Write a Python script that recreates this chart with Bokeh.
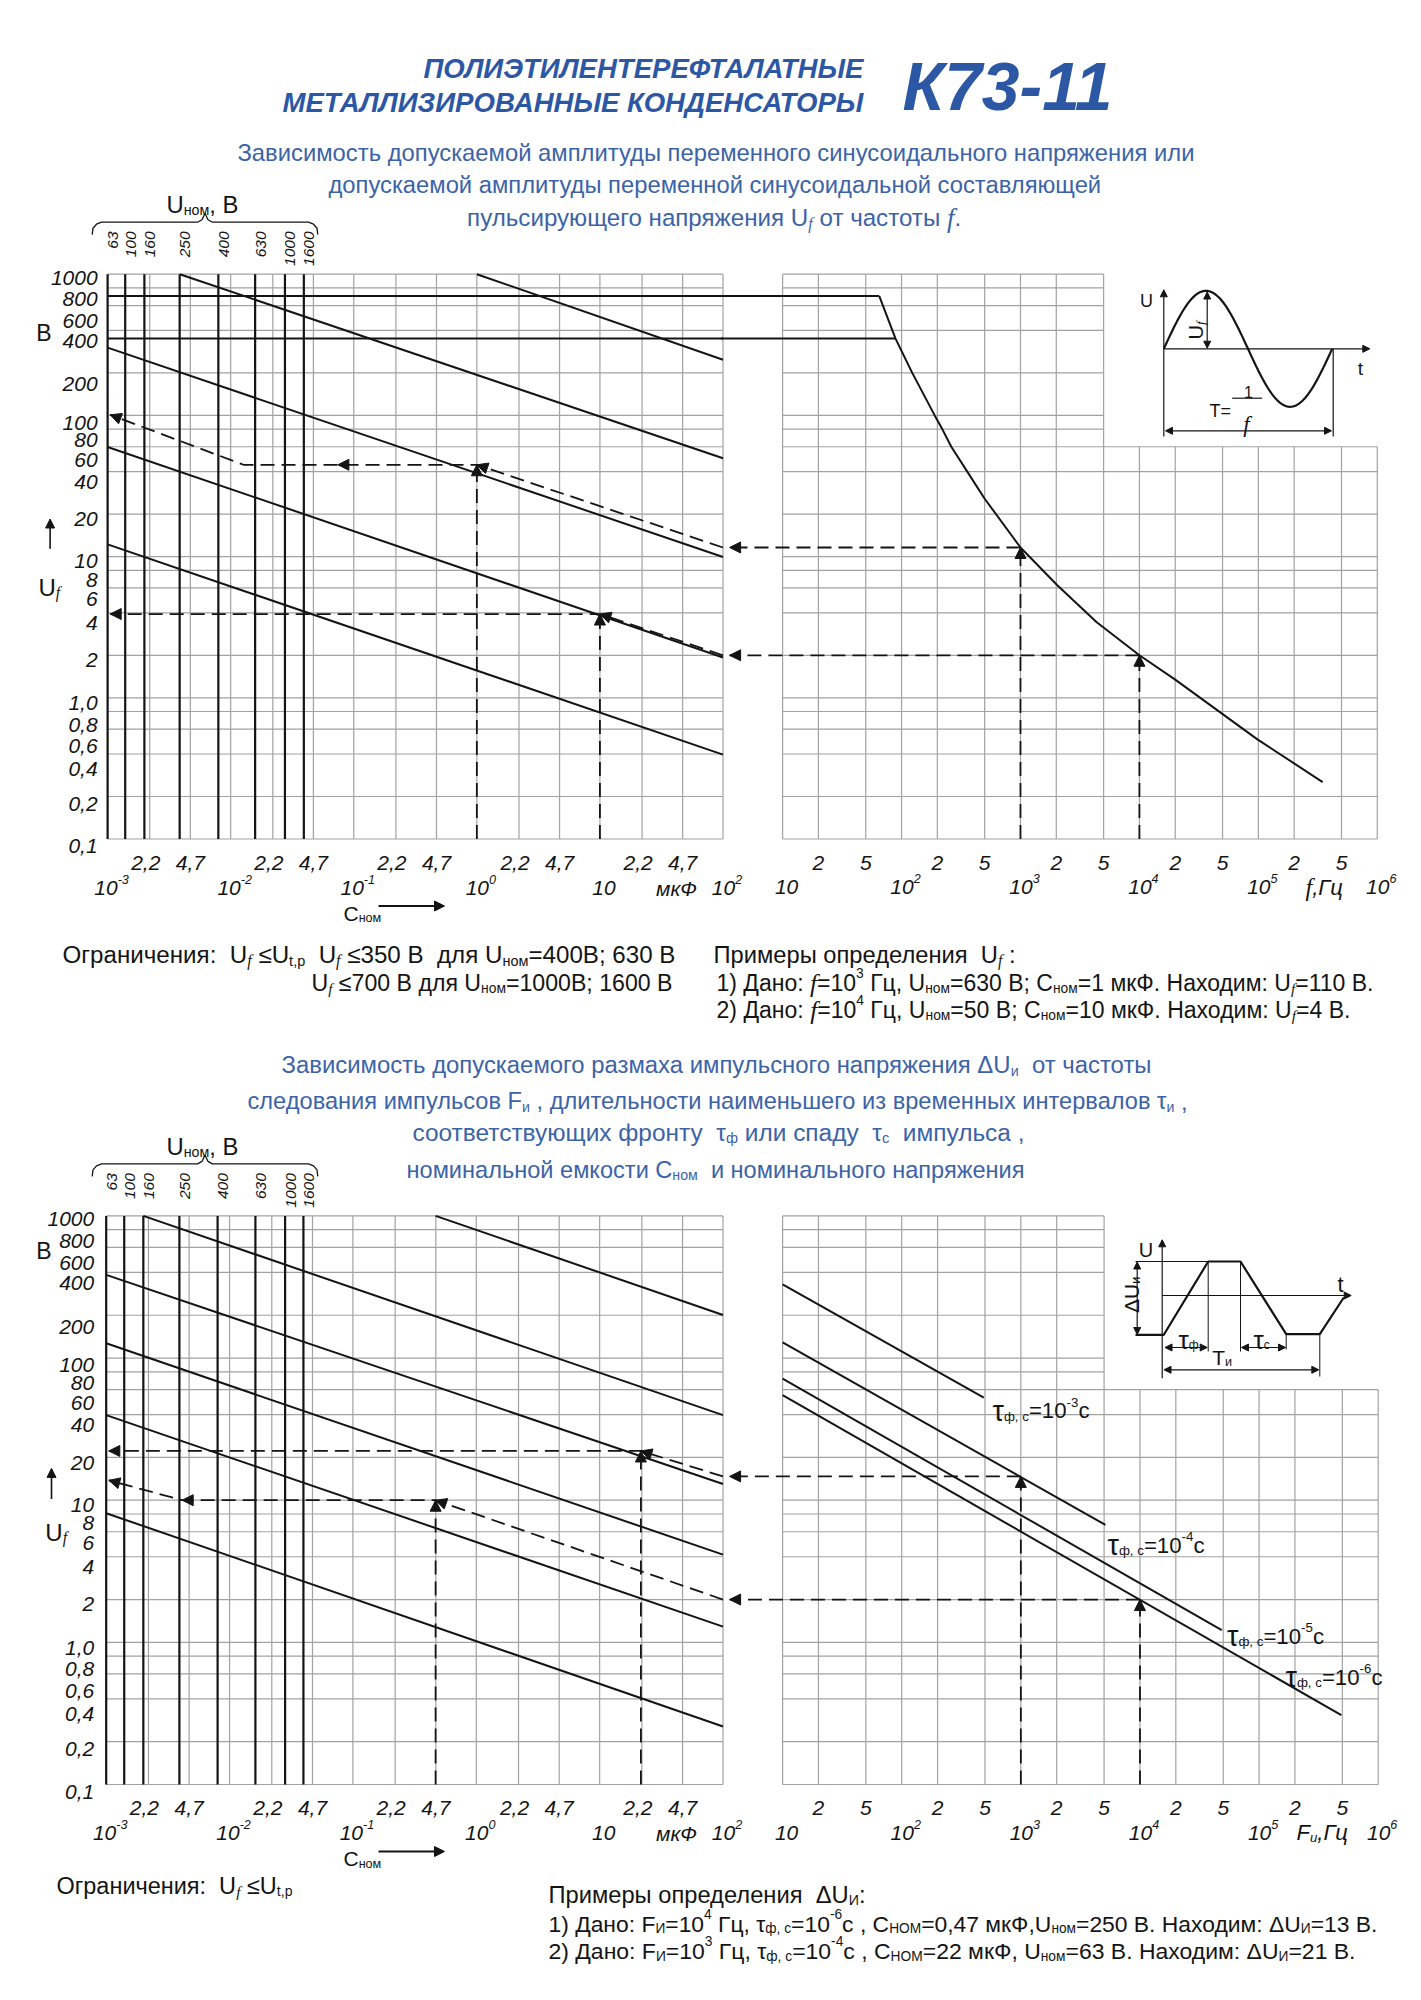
import math
import subprocess
import re
import numpy as np
from bokeh.plotting import figure
from bokeh.models import Range1d, LogScale, ColumnDataSource, Arrow, NormalHead
from bokeh.embed import file_html
from bokeh.resources import INLINE

try:
    from PIL import ImageFont
except Exception:
    ImageFont = None

# ======================= DATA =======================
U_GRID = [0.1, 0.2, 0.4, 0.6, 0.8, 1, 2, 4, 6, 8, 10, 20, 40, 60, 80, 100, 200, 400, 600, 800, 1000]
U_TICK_LABELS = ["0,1", "0,2", "0,4", "0,6", "0,8", "1,0", "2", "4", "6", "8", "10", "20", "40", "60",
                 "80", "100", "200", "400", "600", "800", "1000"]
C_GRID = [1e-3, 2.2e-3, 4.7e-3, 1e-2, 2.2e-2, 4.7e-2, 0.1, 0.22, 0.47, 1, 2.2, 4.7, 10, 22, 47, 100]
C_MINOR_TICKS = [2.2e-3, 4.7e-3, 2.2e-2, 4.7e-2, 0.22, 0.47, 2.2, 4.7, 22, 47]
C_MINOR_LABELS = ["2,2", "4,7", "2,2", "4,7", "2,2", "4,7", "2,2", "4,7", "2,2", "4,7"]
C_MAJOR_TICKS = [1e-3, 1e-2, 1e-1, 1, 10, 100]
C_MAJOR_LABELS = ["10^{-3}", "10^{-2}", "10^{-1}", "10^{0}", "10", "10^{2}"]
F_GRID = [10, 20, 50, 1e2, 2e2, 5e2, 1e3, 2e3, 5e3, 1e4, 2e4, 5e4, 1e5, 2e5, 5e5, 1e6]
F_MINOR_TICKS = [20, 50, 2e2, 5e2, 2e3, 5e3, 2e4, 5e4, 2e5, 5e5]
F_MINOR_LABELS = ["2", "5", "2", "5", "2", "5", "2", "5", "2", "5"]
F_MAJOR_TICKS = [10, 1e2, 1e3, 1e4, 1e5, 1e6]
F_MAJOR_LABELS = ["10", "10^{2}", "10^{3}", "10^{4}", "10^{5}", "10^{6}"]
F_SPLIT = 5e3
U_SPLIT = 60

UNOM_LABELS = ["63", "100", "160", "250", "400", "630", "1000", "1600"]
UNOM_C_TOP = [1.0e-3, 1.39e-3, 1.99e-3, 3.85e-3, 7.94e-3, 1.58e-2, 2.76e-2, 3.93e-2]
UNOM_C_BOT = [1.0e-3, 1.40e-3, 2.00e-3, 3.92e-3, 8.0e-3, 1.62e-2, 2.82e-2, 3.97e-2]

# top chart: U_f versus C_nom lines (start C, start U, end C, end U)
TOP_LINE_C0 = [3.86e-3, 1.0, 1e-3, 1e-3, 1e-3]
TOP_LINE_U0 = [1000, 1000, 302, 59.8, 12.2]
TOP_LINE_C1 = [100, 100, 100, 100, 100]
TOP_LINE_U1 = [49.7, 248, 9.93, 1.93, 0.396]
# top chart: limits and U_f versus f curve
TOP_LIMIT_U = [700, 350]
TOP_CURVE_F = [65, 89, 123, 190, 220, 262, 357, 500, 1000, 2050, 4375, 10000, 19860, 50100, 98200, 347000]
TOP_CURVE_U = [700, 350, 200, 100, 80, 60, 40, 25.7, 11.6, 6.24, 3.43, 2.0, 1.35, 0.767, 0.508, 0.253]
# top chart examples
TOP_EX_F = [1e3, 1e4]
TOP_EX_UF = [11.6, 2.0]
TOP_EX1_C = [100, 1.0, 0.0127, 1.05e-3]
TOP_EX1_U = [11.6, 44.7, 44.7, 101]
TOP_EX1_MID_C = 0.0743
TOP_EX2_C = [100, 10, 1.05e-3]
TOP_EX2_U = [2.0, 3.92, 3.92]

# bottom chart: lines versus C_nom
BOT_LINE_C0 = [0.468, 2.0e-3, 1e-3, 1e-3, 1e-3, 1e-3]
BOT_LINE_U0 = [1000, 1000, 385, 127, 39.7, 8.1]
BOT_LINE_C1 = [100, 100, 100, 100, 100, 100]
BOT_LINE_U1 = [201, 39.7, 13.0, 4.14, 1.29, 0.256]
# bottom chart: lines versus F for tau
TAU_EXP = ["-3", "-4", "-5", "-6"]
TAU_F0 = [10, 10, 10, 10]
TAU_U0 = [330, 129, 71.6, 54.8]
TAU_F1 = [489, 5130, 48600, 490000]
TAU_U1 = [52.7, 6.70, 1.22, 0.308]
# bottom chart examples
BOT_EX_F = [1e4, 1e3]
BOT_EX_UF = [2.0, 14.7]
BOT_EX1_C = [100, 0.468, 4.13e-3, 1.05e-3]
BOT_EX1_U = [2.0, 10.0, 10.0, 13.8]
BOT_EX2_C = [100, 21.6, 1.05e-3]
BOT_EX2_U = [14.7, 22.2, 22.2]

C_MIN, C_MAX = C_GRID[0], C_GRID[-1]
U_MIN, U_MAX = U_GRID[0], U_GRID[-1]
F_MIN, F_MAX = F_GRID[0], F_GRID[-1]

# ======================= STYLE / LAYOUT =======================
SANS = "Liberation Sans"
SERIF = "Liberation Serif"
BLACK = "#141414"
GRID = "#a2a2a2"
BLUE_T = "#2b57a5"
BLUE = "#3c63a8"

W, H = 1416, 1994
X0, Y0 = 0, 9
TOP = dict(c0=107.1, c1=722.5, f0=782.1, f1=1376.8, uhi=282.7, ulo=847.5)
BOT = dict(c0=105.7, c1=722.5, f0=782.1, f1=1377.7, uhi=1224.4, ulo=1793.0)
YLAB_DY = [0, 0, 8, 10, 6, -2, -3, 3, 4, 2, -3, -2, 3, 6, 4, 0, 4, 3, 8, 4, -4]

# ======================= text helpers =======================
FONT_FILES = {
    (SANS, "normal"): "LiberationSans-Regular.ttf",
    (SANS, "italic"): "LiberationSans-Italic.ttf",
    (SANS, "bold"): "LiberationSans-Bold.ttf",
    (SANS, "bold italic"): "LiberationSans-BoldItalic.ttf",
    (SERIF, "italic"): "LiberationSerif-Italic.ttf",
    (SERIF, "normal"): "LiberationSerif-Regular.ttf",
}
_FC = {}


def _load_font(font, style):
    key = (font, style)
    if key in _FC:
        return _FC[key]
    f = None
    if ImageFont is not None:
        cands = []
        if key in FONT_FILES:
            cands.append(FONT_FILES[key])
        try:
            st = {"normal": "Regular", "italic": "Italic", "bold": "Bold", "bold italic": "Bold Italic"}[style]
            out = subprocess.run(["fc-match", "-f", "%{file}", f"{font}:style={st}"],
                                 capture_output=True, text=True, timeout=5).stdout.strip()
            if out:
                cands.append(out)
        except Exception:
            pass
        for c in cands:
            try:
                f = ImageFont.truetype(c, 100)
                break
            except Exception:
                continue
    _FC[key] = f
    return f


def text_w(s, font, style, size):
    if not s:
        return 0.0
    f = _load_font(font, style)
    if f is not None:
        try:
            return f.getlength(s) * size / 100.0
        except Exception:
            pass
    return len(s) * 0.55 * size


def parse(s, font=SANS, style="normal"):
    parts, buf, i = [], "", 0
    while i < len(s):
        ch = s[i]
        if ch in "_^" and i + 1 < len(s) and s[i + 1] == "{":
            if buf:
                parts.append((buf, "", font, style, 1.0))
                buf = ""
            j = s.index("}", i + 2)
            inner = s[i + 2:j]
            mod = "sub" if ch == "_" else "sup"
            if len(inner) > 1 and inner.startswith("$") and inner.endswith("$"):
                parts.append((inner[1:-1], mod, SERIF, "italic", 1.1))
            else:
                parts.append((inner, mod, font, style, 1.0))
            i = j + 1
        elif ch == "$":
            if buf:
                parts.append((buf, "", font, style, 1.0))
                buf = ""
            j = s.index("$", i + 1)
            parts.append((s[i + 1:j], "", SERIF, "italic", 1.1))
            i = j + 1
        else:
            buf += ch
            i += 1
    if buf:
        parts.append((buf, "", font, style, 1.0))
    return parts


TXT = {}


def _add(key, **kw):
    d = TXT.setdefault(key, {k: [] for k in ("x", "y", "xo", "yo", "text", "font", "style", "size", "color", "angle")})
    for k in d:
        d[k].append(kw[k])


def rich(x, y, s, size, color=BLACK, font=SANS, style="normal", align="left", angle=0.0,
         xr="default", yr="default", dx=0.0, dy=0.0, fit=None, parts=None, sub=0.6):
    if parts is None:
        parts = parse(s, font, style)

    def sizes(sz):
        return [sz * pt[4] * (sub if pt[1] else 1.0) for pt in parts]

    def widths(sz):
        return [text_w(pt[0], pt[2], pt[3], ps) for pt, ps in zip(parts, sizes(sz))]

    ws = widths(size)
    if fit:
        k = max(0.75, min(1.35, fit / max(sum(ws), 1e-6)))
        size = size * k
        ws = widths(size)
    total = sum(ws)
    adv = {"left": 0.0, "center": -total / 2.0, "right": -total}[align]
    base = 0.35 * size
    ca, sa = math.cos(angle), math.sin(angle)
    for pt, w, ps in zip(parts, ws, sizes(size)):
        t = pt[0]
        core = t.strip(" ")
        if core:
            lead = text_w(t[:len(t) - len(t.lstrip(" "))], pt[2], pt[3], ps)
            core = re.sub(r" {2,}", lambda m: " " + "\u00a0" * (len(m.group(0)) - 1), core)
            shift = {"": 0.0, "sub": 0.24 * size, "sup": -0.40 * size}[pt[1]]
            d = base + shift
            a = adv + lead
            _add((xr, yr), x=x, y=y, xo=dx + a * ca + d * sa, yo=dy - a * sa + d * ca, text=core,
                 font=pt[2], style=pt[3], size=f"{ps:.2f}px", color=color, angle=angle)
        adv += w
    return size


# ======================= figure =======================
def log_range(v0, p0, v1, p1, lo, hi):
    k = (p1 - p0) / (math.log10(v1) - math.log10(v0))
    return Range1d(start=10 ** (math.log10(v0) + (lo - p0) / k), end=10 ** (math.log10(v0) + (hi - p0) / k))


p = figure(width=W, height=H, x_range=Range1d(X0, X0 + W), y_range=Range1d(Y0 + H, Y0),
           x_axis_type=None, y_axis_type=None, output_backend="svg", toolbar_location=None,
           min_border=0, outline_line_color=None, background_fill_color="white",
           border_fill_color="white")

p.extra_x_ranges = {
    "cT": log_range(C_MIN, TOP["c0"], C_MAX, TOP["c1"], X0, X0 + W),
    "fT": log_range(F_MIN, TOP["f0"], F_MAX, TOP["f1"], X0, X0 + W),
    "cB": log_range(C_MIN, BOT["c0"], C_MAX, BOT["c1"], X0, X0 + W),
    "fB": log_range(F_MIN, BOT["f0"], F_MAX, BOT["f1"], X0, X0 + W),
}
p.extra_y_ranges = {
    "uT": log_range(U_MAX, TOP["uhi"], U_MIN, TOP["ulo"], Y0 + H, Y0),
    "uB": log_range(U_MAX, BOT["uhi"], U_MIN, BOT["ulo"], Y0 + H, Y0),
}
p.extra_x_scales = {k: LogScale() for k in p.extra_x_ranges}
p.extra_y_scales = {k: LogScale() for k in p.extra_y_ranges}


def f_at(lay, px):
    ppd = (lay["f1"] - lay["f0"]) / (math.log10(F_MAX) - math.log10(F_MIN))
    return 10 ** (math.log10(F_MIN) - (lay["f0"] - px) / ppd)


def head(x0, y0, x1, y1, xr, yr, size=11):
    p.add_layout(Arrow(end=NormalHead(size=size, fill_color=BLACK, line_color=BLACK, line_width=1),
                       x_start=x0, y_start=y0, x_end=x1, y_end=y1, line_alpha=0,
                       x_range_name=xr, y_range_name=yr))


def dline(xs, ys, xr, yr):
    p.line(xs, ys, line_color=BLACK, line_width=1.8, line_dash="14 7", x_range_name=xr, y_range_name=yr)


def dbl(x0, y0, x1, y1, size=7, lw=1.2):
    p.add_layout(Arrow(start=NormalHead(size=size, fill_color=BLACK, line_color=BLACK, line_width=1),
                       end=NormalHead(size=size, fill_color=BLACK, line_color=BLACK, line_width=1),
                       x_start=x0, y_start=y0, x_end=x1, y_end=y1, line_color=BLACK, line_width=lw))


def sgl(x0, y0, x1, y1, size=7, lw=1.2):
    p.add_layout(Arrow(end=NormalHead(size=size, fill_color=BLACK, line_color=BLACK, line_width=1),
                       x_start=x0, y_start=y0, x_end=x1, y_end=y1, line_color=BLACK, line_width=lw))


def chart(tag, lay, unom_c, lc0, lu0, lc1, lu1, ylab_dx):
    cx, fx, uy = "c" + tag, "f" + tag, "u" + tag
    n = len(U_GRID)
    kw = dict(line_color=GRID, line_width=1.2)
    p.segment(x0=[C_MIN] * n, y0=U_GRID, x1=[C_MAX] * n, y1=U_GRID, x_range_name=cx, y_range_name=uy, **kw)
    p.segment(x0=C_GRID, y0=[U_MIN] * len(C_GRID), x1=C_GRID, y1=[U_MAX] * len(C_GRID),
              x_range_name=cx, y_range_name=uy, **kw)
    f_end = [F_MAX if u <= U_SPLIT else F_SPLIT for u in U_GRID]
    p.segment(x0=[F_MIN] * n, y0=U_GRID, x1=f_end, y1=U_GRID, x_range_name=fx, y_range_name=uy, **kw)
    u_end = [U_MAX if f <= F_SPLIT else U_SPLIT for f in F_GRID]
    p.segment(x0=F_GRID, y0=[U_MIN] * len(F_GRID), x1=F_GRID, y1=u_end, x_range_name=fx, y_range_name=uy, **kw)
    p.segment(x0=unom_c, y0=[U_MIN] * len(unom_c), x1=unom_c, y1=[U_MAX] * len(unom_c),
              line_color=BLACK, line_width=2.2, x_range_name=cx, y_range_name=uy)
    p.segment(x0=lc0, y0=lu0, x1=lc1, y1=lu1, line_color=BLACK, line_width=2.0, x_range_name=cx, y_range_name=uy)

    for u, lab, ddy in zip(U_GRID, U_TICK_LABELS, YLAB_DY):
        rich(C_MIN, u, lab, 21, style="italic", align="right", xr=cx, yr=uy, dx=ylab_dx, dy=ddy)
    for c, lab in zip(C_MINOR_TICKS, C_MINOR_LABELS):
        rich(c, U_MIN, lab, 21, style="italic", align="center", xr=cx, yr=uy,
             dx=-4 if lab == "2,2" else 0, dy=16.5)
    for c, lab in zip(C_MAJOR_TICKS, C_MAJOR_LABELS):
        rich(c, U_MIN, lab, 21, style="italic", align="center", xr=cx, yr=uy, dx=4, dy=41.5)
    for f, lab in zip(F_MINOR_TICKS, F_MINOR_LABELS):
        rich(f, U_MIN, lab, 21, style="italic", align="center", xr=fx, yr=uy, dy=16.5)
    for f, lab in zip(F_MAJOR_TICKS, F_MAJOR_LABELS):
        rich(f, U_MIN, lab, 21, style="italic", align="center", xr=fx, yr=uy, dx=4, dy=41)

    top, bot = lay["uhi"], lay["ulo"]
    for c, lab in zip(unom_c, UNOM_LABELS):
        rich(c, top - 42.7, lab, 15.5, style="italic", align="right", angle=math.pi / 2, xr=cx, yr="default")
    by = top - 52
    bxs = [91.7, 92.5, 96, 101, 197, 201.5, 204.5, 207.5, 212, 308, 313, 316.5, 317.3]
    bys = [by + 12.5, by + 6, by + 2, by, by, by - 2.5, by - 9, by - 2.5, by, by, by + 2, by + 6, by + 12.5]
    p.line(bxs, bys, line_color=BLACK, line_width=1.3)
    rich(202, top - 78, "U_{ном}, В", 21, align="center", fit=72)

    rich(676, bot + 42, "мкФ", 21, style="italic", align="center")
    rich(343, bot + 67, "C_{ном}", 21)
    sgl(378, bot + 67, 444, bot + 67, size=10, lw=2)


# ---------------- top chart ----------------
chart("T", TOP, UNOM_C_TOP, TOP_LINE_C0, TOP_LINE_U0, TOP_LINE_C1, TOP_LINE_U1, -10)
f_edge_T = f_at(TOP, TOP["c1"] - 2)
for u, fe in zip(TOP_LIMIT_U, TOP_CURVE_F[:2]):
    p.line([C_MIN, C_MAX], [u, u], line_color=BLACK, line_width=2.0, x_range_name="cT", y_range_name="uT")
    p.line([f_edge_T, fe], [u, u], line_color=BLACK, line_width=2.0, x_range_name="fT", y_range_name="uT")
p.line(TOP_CURVE_F, TOP_CURVE_U, line_color=BLACK, line_width=2.0, x_range_name="fT", y_range_name="uT")

f_tip_T = f_at(TOP, TOP["c1"] + 6.6)
for fv, uv in zip(TOP_EX_F, TOP_EX_UF):
    dline([fv, fv], [U_MIN, uv], "fT", "uT")
    head(fv, U_MIN, fv, uv, "fT", "uT")
    dline([fv, f_tip_T], [uv, uv], "fT", "uT")
    head(fv, uv, f_tip_T, uv, "fT", "uT")
dline(TOP_EX1_C, TOP_EX1_U, "cT", "uT")
head(TOP_EX1_C[0], TOP_EX1_U[0], TOP_EX1_C[1], TOP_EX1_U[1], "cT", "uT")
head(TOP_EX1_C[1], TOP_EX1_U[1], TOP_EX1_MID_C, TOP_EX1_U[2], "cT", "uT")
head(TOP_EX1_C[2], TOP_EX1_U[2], TOP_EX1_C[3], TOP_EX1_U[3], "cT", "uT")
dline([TOP_EX1_C[1]] * 2, [U_MIN, TOP_EX1_U[1]], "cT", "uT")
head(TOP_EX1_C[1], U_MIN, TOP_EX1_C[1], TOP_EX1_U[1], "cT", "uT")
dline(TOP_EX2_C, TOP_EX2_U, "cT", "uT")
head(TOP_EX2_C[0], TOP_EX2_U[0], TOP_EX2_C[1], TOP_EX2_U[1], "cT", "uT")
head(TOP_EX2_C[1], TOP_EX2_U[1], TOP_EX2_C[2], TOP_EX2_U[2], "cT", "uT")
dline([TOP_EX2_C[1]] * 2, [U_MIN, TOP_EX2_U[1]], "cT", "uT")
head(TOP_EX2_C[1], U_MIN, TOP_EX2_C[1], TOP_EX2_U[1], "cT", "uT")

# ---------------- bottom chart ----------------
chart("B", BOT, UNOM_C_BOT, BOT_LINE_C0, BOT_LINE_U0, BOT_LINE_C1, BOT_LINE_U1, -12)
p.segment(x0=TAU_F0, y0=TAU_U0, x1=TAU_F1, y1=TAU_U1, line_color=BLACK, line_width=2.0,
          x_range_name="fB", y_range_name="uB")
f_tip_B = f_at(BOT, BOT["c1"] + 6.6)
for fv, uv in zip(BOT_EX_F, BOT_EX_UF):
    dline([fv, fv], [U_MIN, uv], "fB", "uB")
    head(fv, U_MIN, fv, uv, "fB", "uB")
    dline([fv, f_tip_B], [uv, uv], "fB", "uB")
    head(fv, uv, f_tip_B, uv, "fB", "uB")
dline(BOT_EX1_C, BOT_EX1_U, "cB", "uB")
for i in range(3):
    head(BOT_EX1_C[i], BOT_EX1_U[i], BOT_EX1_C[i + 1], BOT_EX1_U[i + 1], "cB", "uB")
dline([BOT_EX1_C[1]] * 2, [U_MIN, BOT_EX1_U[1]], "cB", "uB")
head(BOT_EX1_C[1], U_MIN, BOT_EX1_C[1], BOT_EX1_U[1], "cB", "uB")
dline(BOT_EX2_C, BOT_EX2_U, "cB", "uB")
for i in range(2):
    head(BOT_EX2_C[i], BOT_EX2_U[i], BOT_EX2_C[i + 1], BOT_EX2_U[i + 1], "cB", "uB")
dline([BOT_EX2_C[1]] * 2, [U_MIN, BOT_EX2_U[1]], "cB", "uB")
head(BOT_EX2_C[1], U_MIN, BOT_EX2_C[1], BOT_EX2_U[1], "cB", "uB")

TAU_POS = [(992, 1411.7), (1107, 1546), (1226.5, 1637), (1285, 1678)]
for (tx, ty), ex in zip(TAU_POS, TAU_EXP):
    parts = [("τ", "", SANS, "normal", 1.3), ("ф, с", "sub", SANS, "normal", 1.0),
             ("=10", "", SANS, "normal", 1.0), (ex, "sup", SANS, "normal", 1.0), ("с", "", SANS, "normal", 1.0)]
    rich(tx, ty, None, 22, parts=parts, fit=97)

# ---------------- left axis labels ----------------
rich(43.5, 333.3, "В", 23, align="center")
sgl(49.6, 557.3, 49.6, 527.5, size=9, lw=1.6)
rich(38, 587.2, "U_{$f$}", 24)
rich(43.5, 1251.8, "В", 23, align="center")
sgl(51, 1507.5, 51, 1476.9, size=9, lw=1.6)
rich(44.8, 1532.1, "U_{$f$}", 24)
rich(1305, TOP["ulo"] + 41, "$f$,Гц", 22, style="italic")
rich(1296, BOT["ulo"] + 40, "F_{и},Гц", 22, style="italic")

# ---------------- inset: sine ----------------
ts = np.linspace(0, 168.4, 120)
p.line(1163.3 + ts, 357.3 - 58 * np.sin(2 * np.pi * ts / 168.4), line_color=BLACK, line_width=2.2)
sgl(1163.3, 445, 1163.3, 298.3, size=7)
sgl(1163.3, 357.3, 1369.3, 357.3, size=7)
dbl(1206.7, 356.7, 1206.7, 300.5, size=7)
dbl(1165, 439.3, 1331, 439.3, size=7)
p.line([1332.7, 1332.7], [357.3, 445], line_color=BLACK, line_width=1.2)
p.line([1231.7, 1261.7], [406.7, 406.7], line_color=BLACK, line_width=1.2)
rich(1146, 302.7, "U", 18, align="center")
rich(1360, 370.7, "t", 19, align="center")
rich(1188, 339, "U_{$f$}", 20, align="center", angle=math.pi / 2)
rich(1209, 413.3, "T=", 18)
rich(1248, 395, "1", 16, align="center")
rich(1246, 425, "$f$", 21, align="center")

# ---------------- inset: pulse ----------------
p.line([1135, 1163.3, 1207.7, 1240, 1285.7, 1319.3, 1343.3], [1343.3, 1343.3, 1270, 1270, 1342.7, 1342.7, 1306],
       line_color=BLACK, line_width=2.2)
p.line([1135, 1207.7], [1270, 1270], line_color=BLACK, line_width=1.0)
sgl(1161.7, 1304, 1350.7, 1304, size=7, lw=1.0)
sgl(1161.7, 1386.7, 1161.7, 1248.3, size=7)
dbl(1136.7, 1270.5, 1136.7, 1343, size=7)
for vx, vy0, vy1 in [(1207.7, 1270, 1360), (1240, 1270, 1360), (1285.7, 1342.7, 1358), (1319.3, 1342.7, 1385)]:
    p.line([vx, vx], [vy0, vy1], line_color=BLACK, line_width=1.0)
dbl(1164.5, 1356, 1206.7, 1356, size=7)
dbl(1241, 1356, 1285, 1356, size=7)
dbl(1163.5, 1378.3, 1318.3, 1378.3, size=7)
rich(1145.5, 1251.7, "U", 20, align="center")
rich(1340, 1285, "t", 22, align="center")
rich(1123.3, 1303.3, "ΔU_{и}", 21, align="center", angle=math.pi / 2)
rich(1178, 1341.7, None, 20, parts=[("τ", "", SANS, "normal", 1.3), ("ф", "sub", SANS, "normal", 1.0)])
rich(1253, 1341.7, None, 20, parts=[("τ", "", SANS, "normal", 1.3), ("с", "sub", SANS, "normal", 1.0)])
rich(1211.7, 1358.3, "T_{и}", 21)

# ---------------- titles and texts ----------------
rich(863, 67.7, "ПОЛИЭТИЛЕНТЕРЕФТАЛАТНЫЕ", 24, BLUE_T, style="bold italic", align="right", fit=440)
rich(863, 101.7, "МЕТАЛЛИЗИРОВАННЫЕ КОНДЕНСАТОРЫ", 24, BLUE_T, style="bold italic", align="right", fit=581)
rich(902, 71, "К73-11", 68, BLUE_T, style="bold italic", fit=210)
rich(715.5, 152.3, "Зависимость допускаемой амплитуды переменного синусоидального напряжения или", 21, BLUE,
     align="center", fit=957)
rich(714.5, 185, "допускаемой амплитуды переменной синусоидальной составляющей", 21, BLUE, align="center", fit=773)
rich(713.6, 218, "пульсирующего напряжения U_{$f$} от частоты $f$.", 21, BLUE, align="center", fit=494)

rich(62, 955, "Ограничения:  U_{$f$} ≤U_{t,р}  U_{$f$} ≤350 В  для U_{ном}=400В; 630 В", 20, fit=613)
rich(311, 983, "U_{$f$} ≤700 В для U_{ном}=1000В; 1600 В", 20, fit=361)
rich(713, 955, "Примеры определения  U_{$f$} :", 20, fit=302)
rich(716, 983, "1) Дано: $f$=10^{3} Гц, U_{ном}=630 В; C_{ном}=1 мкФ. Находим: U_{$f$}=110 В.", 20, fit=657)
rich(716, 1010, "2) Дано: $f$=10^{4} Гц, U_{ном}=50 В; C_{ном}=10 мкФ. Находим: U_{$f$}=4 В.", 20, fit=634)

rich(716, 1065, "Зависимость допускаемого размаха импульсного напряжения ΔU_{и}  от частоты", 21, BLUE,
     align="center", fit=870)
rich(717, 1101.7, "следования импульсов F_{и} , длительности наименьшего из временных интервалов τ_{и} ,", 21, BLUE,
     align="center", fit=940)
rich(718, 1132, "соответствующих фронту  τ_{ф} или спаду  τ_{с}  импульса ,", 21, BLUE, align="center", fit=612)
rich(715, 1170, "номинальной емкости C_{ном}  и номинального напряжения", 21, BLUE, align="center", fit=618)

rich(56, 1886, "Ограничения:  U_{$f$} ≤U_{t,р}", 20, fit=236)
rich(548, 1895, "Примеры определения  ΔU_{И}:", 20, fit=317)
rich(548, 1924, "1) Дано: F_{И}=10^{4} Гц, τ_{ф, с}=10^{-6}с , C_{НОМ}=0,47 мкФ,U_{ном}=250 В. Находим: ΔU_{И}=13 В.",
     20, fit=829)
rich(548, 1951, "2) Дано: F_{И}=10^{3} Гц, τ_{ф, с}=10^{-4}с , C_{НОМ}=22 мкФ, U_{ном}=63 В. Находим: ΔU_{И}=21 В.",
     20, fit=807)

# ---------------- emit texts ----------------
for (xr, yr), d in TXT.items():
    src = ColumnDataSource(d)
    p.text(x="x", y="y", text="text", x_offset="xo", y_offset="yo", angle="angle",
           text_font="font", text_font_style="style", text_font_size="size", text_color="color",
           text_align="left", text_baseline="alphabetic", source=src, x_range_name=xr, y_range_name=yr)

with open("out.html", "w", encoding="utf-8") as fh:
    fh.write(file_html(p, INLINE, title="K73-11"))
